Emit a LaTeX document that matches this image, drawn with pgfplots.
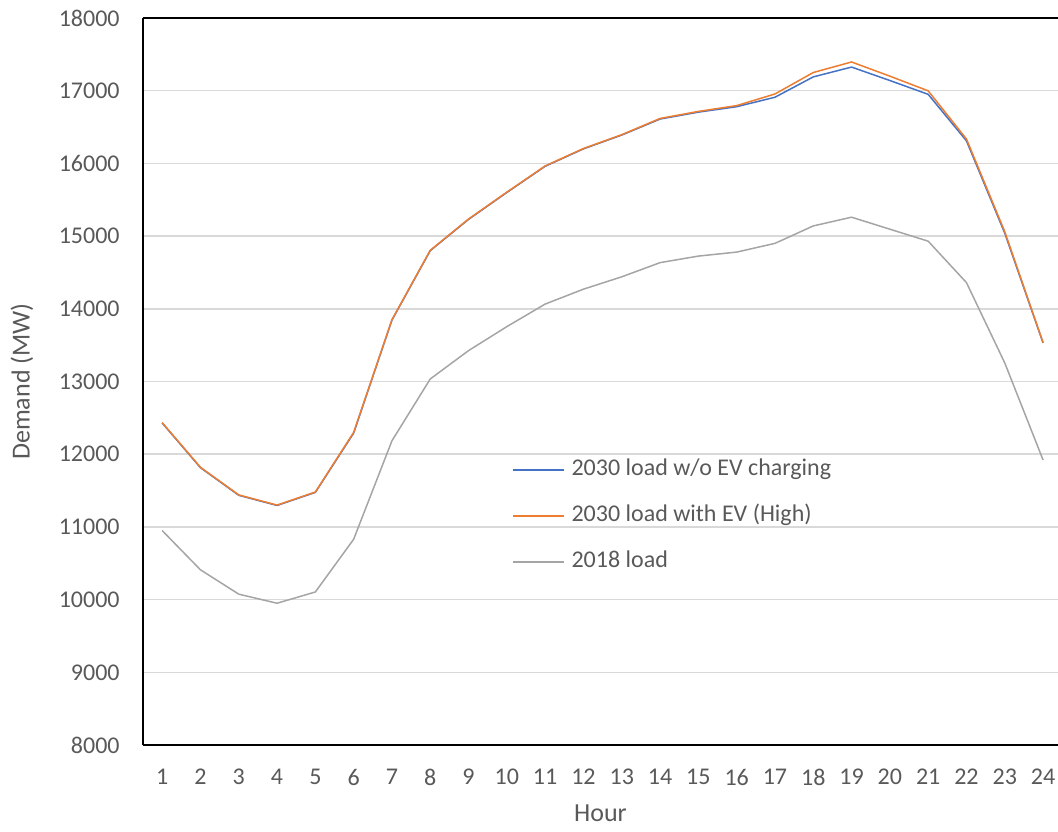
\documentclass[border=0pt]{standalone}
\usepackage{fontspec}
\setmainfont{Carlito}
\usepackage{pgfplots}
\pgfplotsset{compat=1.18}
\usepackage{pgfplotstable}

\definecolor{serblue}{HTML}{4472C4}
\definecolor{serorange}{HTML}{ED7D31}
\definecolor{sergray}{HTML}{A5A5A5}
\definecolor{txtgray}{HTML}{595959}
\definecolor{gridgray}{HTML}{D9D9D9}

% Hourly demand (MW)
\pgfplotstableread{
hour  noev   withev  base
1     12430  12435   10950
2     11815  11820   10410
3     11435  11440   10075
4     11295  11300    9950
5     11475  11480   10105
6     12290  12300   10830
7     13845  13850   12185
8     14800  14805   13035
9     15230  15235   13425
10    15600  15605   13755
11    15960  15965   14065
12    16200  16205   14270
13    16390  16395   14440
14    16610  16618   14635
15    16705  16715   14725
16    16780  16795   14780
17    16910  16955   14900
18    17190  17250   15140
19    17325  17395   15260
20    17140  17200   15095
21    16950  16998   14930
22    16310  16335   14360
23    15040  15060   13255
24    13530  13535   11920
}\loadtable

\begin{document}
\begin{tikzpicture}
\useasboundingbox (-71.5pt,-43pt) rectangle (457.5pt,372.5pt);
\begin{axis}[
  at={(0pt,0pt)}, anchor=south west,
  scale only axis,
  width=457.5pt, height=363.5pt,
  xmin=0.5, xmax=24.39,
  ymin=8000, ymax=18000,
  xtick={1,...,24},
  ytick={8000,9000,...,18000},
  axis x line*=box,
  axis y line*=left,
  axis line style={black, line width=1pt},
  major tick length=0pt,
  ymajorgrids,
  grid style={gridgray, line width=0.8pt},
  /pgf/number format/assume math mode=true,
  scaled y ticks=false,
  yticklabel={\pgfmathprintnumber[fixed,1000 sep={}]{\tick}},
  tick label style={font=\fontsize{12}{14}\selectfont, text=txtgray},
  y tick label style={anchor=east, inner sep=0pt, xshift=-11.5pt},
  x tick label style={anchor=north, inner sep=0pt, yshift=-12pt},
  xlabel={Hour},
  ylabel={Demand (MW)},
  label style={font=\fontsize{13}{15}\selectfont, text=txtgray},
  xlabel style={at={(axis description cs:0.5,-0.0935)}, anchor=center},
  ylabel style={at={(axis description cs:-0.1322,0.5)}, anchor=center, rotate=0},
  legend style={
    at={(0.4033,0.315)}, anchor=west,
    draw=none, fill=none, inner sep=0pt, outer sep=0pt,
    row sep=12pt, column sep=3.5pt,
    font=\fontsize{12}{14}\selectfont, text=txtgray,
    nodes={inner sep=0pt, text height=8.5pt, text depth=2.5pt},
  },
  legend cell align=left,
  legend image code/.code={\draw[#1] (0pt,0pt) -- (25.5pt,0pt);},
]
\addplot[serblue, line width=0.75pt] table[x=hour, y=noev] {\loadtable};
\addlegendentry{2030 load w/o EV charging}
\addplot[serorange, line width=0.75pt] table[x=hour, y=withev] {\loadtable};
\addlegendentry{2030 load with EV (High)}
\addplot[sergray, line width=0.75pt] table[x=hour, y=base] {\loadtable};
\addlegendentry{2018 load}
\end{axis}
\end{tikzpicture}
\end{document}
